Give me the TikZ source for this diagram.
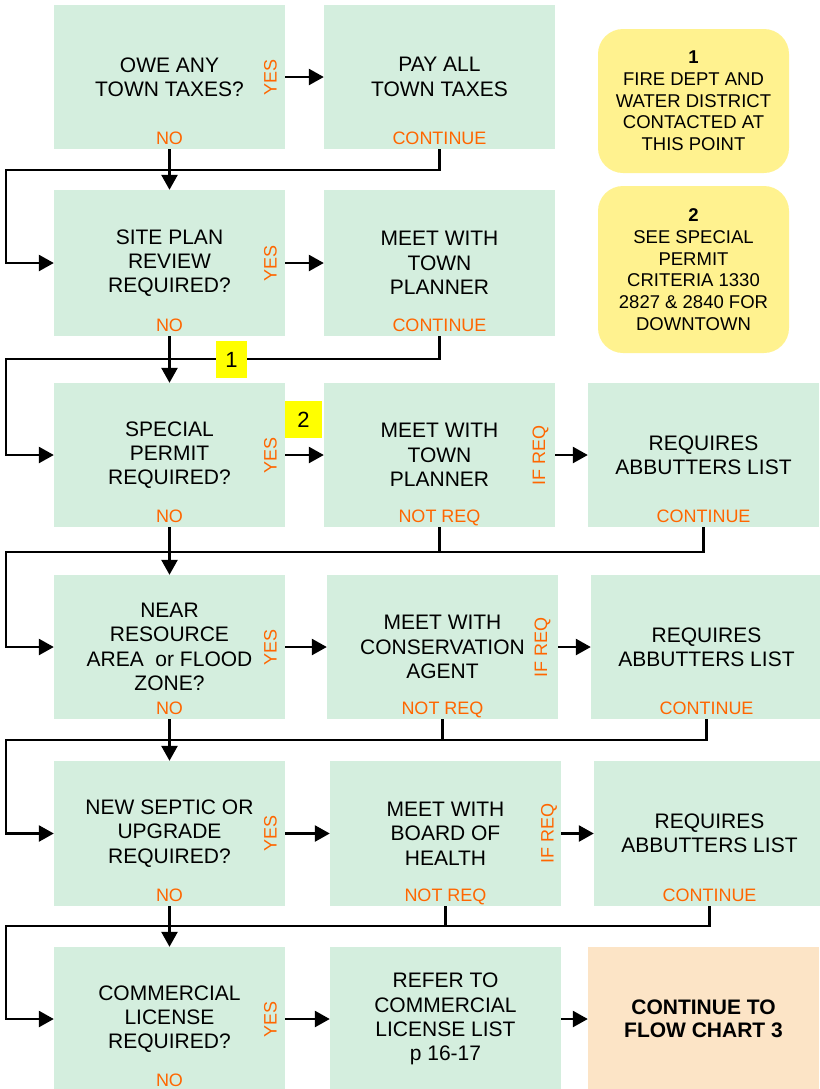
\documentclass[tikz,border=0pt]{standalone}
\usepackage{fontspec}
\setmainfont{Liberation Sans}
\usetikzlibrary{arrows.meta}
\definecolor{boxgreen}{HTML}{D4EEDE}
\definecolor{noteyellow}{HTML}{FFF28F}
\definecolor{endorange}{HTML}{FCE4C6}
\definecolor{lblorange}{HTML}{FF6600}
\definecolor{markyellow}{HTML}{FFFF00}
\tikzset{
  stepbox/.style={fill=boxgreen, draw=none, inner sep=0pt, align=center,
    font=\fontsize{21bp}{24.3bp}\selectfont},
  notebox/.style={fill=noteyellow, draw=none, rounded corners=25bp, inner sep=0pt,
    align=center, font=\fontsize{18.5bp}{21.7bp}\selectfont,
    minimum width=191bp},
  endbox/.style={fill=endorange, draw=none, inner sep=0pt, align=center,
    font=\fontsize{21bp}{23.5bp}\selectfont\bfseries},
  lbl/.style={text=lblorange, inner sep=0pt, anchor=base,
    font=\fontsize{18bp}{20bp}\selectfont},
  vlbl/.style={text=lblorange, inner sep=0pt, anchor=center, rotate=90,
    font=\fontsize{18bp}{20bp}\selectfont},
  markbox/.style={fill=markyellow, draw=none, inner sep=0pt,
    minimum height=37bp, font=\fontsize{22bp}{24bp}\selectfont},
  conn/.style={draw=black, line width=2.6bp},
  arr/.style={conn, -{Triangle[length=15bp,width=16bp]}},
}
\begin{document}
\begin{tikzpicture}[x=1bp,y=-1bp]
\useasboundingbox (0,0) rectangle (820,1089);

% ---------- Row 1
\node[stepbox, minimum width=231bp, minimum height=144bp] (q1) at (169.5,77) {OWE ANY\\TOWN TAXES?};
\node[stepbox, minimum width=231bp, minimum height=144bp] (a1) at (439.5,77) {PAY ALL\\TOWN TAXES};
\node[lbl] (q1no) at (169.5,144) {NO};
\node[vlbl] (q1yes) at (270.5,77) {YES};
\node[lbl] (a1c) at (439.5,144) {CONTINUE};

% ---------- notes
\node[notebox, minimum height=144bp] (n1) at (693.5,101) {\textbf{1}\\FIRE DEPT AND\\WATER DISTRICT\\CONTACTED AT\\THIS POINT};
\node[notebox, minimum height=167bp] (n2) at (693.5,269.5) {\textbf{2}\\SEE SPECIAL\\PERMIT\\CRITERIA 1330\\2827 \& 2840 FOR\\DOWNTOWN};

% ---------- Row 2
\node[stepbox, minimum width=231bp, minimum height=146bp] (q2) at (169.5,263) {SITE PLAN\\REVIEW\\REQUIRED?};
\node[stepbox, minimum width=231bp, minimum height=146bp] (a2) at (439.5,263) {MEET WITH\\TOWN\\PLANNER};
\node[lbl] (q2no) at (169.5,331) {NO};
\node[vlbl] (q2yes) at (270.5,263) {YES};
\node[lbl] (a2c) at (439.5,331) {CONTINUE};

% ---------- Row 3
\node[stepbox, minimum width=231bp, minimum height=144bp] (q3) at (169.5,455) {SPECIAL\\PERMIT\\REQUIRED?};
\node[stepbox, minimum width=231bp, minimum height=144bp] (a3) at (439.5,455) {MEET WITH\\TOWN\\PLANNER};
\node[stepbox, minimum width=231bp, minimum height=144bp] (r3) at (703.5,455) {REQUIRES\\ABBUTTERS LIST};
\node[lbl] (q3no) at (169.5,522) {NO};
\node[vlbl] (q3yes) at (270.5,455) {YES};
\node[lbl] (a3n) at (439.5,522) {NOT REQ};
\node[vlbl] (a3if) at (540.5,455) {IF REQ};
\node[lbl] (r3c) at (703.5,522) {CONTINUE};

% ---------- Row 4
\node[stepbox, minimum width=231bp, minimum height=144bp] (q4) at (169.5,647) {NEAR\\RESOURCE\\AREA\ \ or FLOOD\\ZONE?};
\node[stepbox, minimum width=231bp, minimum height=144bp] (a4) at (442.5,647) {MEET WITH\\CONSERVATION\\AGENT};
\node[stepbox, minimum width=231bp, minimum height=144bp] (r4) at (706.5,647) {REQUIRES\\ABBUTTERS LIST};
\node[lbl] (q4no) at (169.5,714) {NO};
\node[vlbl] (q4yes) at (270.5,647) {YES};
\node[lbl] (a4n) at (442.5,714) {NOT REQ};
\node[vlbl] (a4if) at (542.5,647) {IF REQ};
\node[lbl] (r4c) at (706.5,714) {CONTINUE};

% ---------- Row 5
\node[stepbox, minimum width=231bp, minimum height=145bp] (q5) at (169.5,833.5) {NEW SEPTIC OR\\UPGRADE\\REQUIRED?};
\node[stepbox, minimum width=231bp, minimum height=145bp] (a5) at (445.5,833.5) {MEET WITH\\BOARD OF\\HEALTH};
\node[stepbox, minimum width=231bp, minimum height=145bp] (r5) at (709.5,833.5) {REQUIRES\\ABBUTTERS LIST};
\node[lbl] (q5no) at (169.5,901) {NO};
\node[vlbl] (q5yes) at (270.5,833.5) {YES};
\node[lbl] (a5n) at (445.5,901) {NOT REQ};
\node[vlbl] (a5if) at (549,833.5) {IF REQ};
\node[lbl] (r5c) at (709.5,901) {CONTINUE};

% ---------- Row 6
\node[stepbox, minimum width=231bp, minimum height=144bp] (q6) at (169.5,1019) {COMMERCIAL\\LICENSE\\REQUIRED?};
\node[stepbox, minimum width=231bp, minimum height=144bp] (a6) at (445.5,1019) {REFER TO\\COMMERCIAL\\LICENSE LIST\\p 16-17};
\node[endbox, minimum width=231bp, minimum height=144bp] (e6) at (703.5,1019) {CONTINUE TO\\FLOW CHART 3};
\node[lbl] (q6no) at (169.5,1086) {NO};
\node[vlbl] (q6yes) at (270.5,1019) {YES};

% ---------- junction coordinates on the left rail
\coordinate (j1) at (6,170);
\coordinate (j2) at (6,359);
\coordinate (j3) at (6,552);
\coordinate (j4) at (6,740);
\coordinate (j5) at (6,926);

% ---------- NO arrows
\draw[arr] (q1.south) -- (q2.north);
\draw[arr] (q2.south) -- (q3.north);
\draw[arr] (q3.south) -- (q4.north);
\draw[arr] (q4.south) -- (q5.north);
\draw[arr] (q5.south) -- (q6.north);

% ---------- YES arrows
\draw[arr] (q1.east) -- (a1.west);
\draw[arr] (q2.east) -- (a2.west);
\draw[arr] (q3.east) -- (a3.west);
\draw[arr] (q4.east) -- (a4.west);
\draw[arr] (q5.east) -- (a5.west);
\draw[arr] (q6.east) -- (a6.west);

% ---------- IF REQ arrows
\draw[arr] (a3.east) -- (r3.west);
\draw[arr] (a4.east) -- (r4.west);
\draw[arr] (a5.east) -- (r5.west);
\draw[arr] (a6.east) -- (e6.west);

% ---------- continue rails
\draw[arr] (a1.south) |- (j1) |- (q2.west);
\draw[arr] (a2.south) |- (j2) |- (q3.west);
\draw[arr] (r3.south) |- (j3) |- (q4.west);
\draw[conn] (a3.south) -- (a3.south |- j3);
\draw[arr] (r4.south) |- (j4) |- (q5.west);
\draw[conn] (a4.south) -- (a4.south |- j4);
\draw[arr] (r5.south) |- (j5) |- (q6.west);
\draw[conn] (a5.south) -- (a5.south |- j5);

% ---------- numbered markers
\node[markbox, minimum width=31bp] (m1) at (231.5,359.5) {1};
\node[markbox, minimum width=37bp] (m2) at (303.5,419.5) {2};
\end{tikzpicture}
\end{document}
